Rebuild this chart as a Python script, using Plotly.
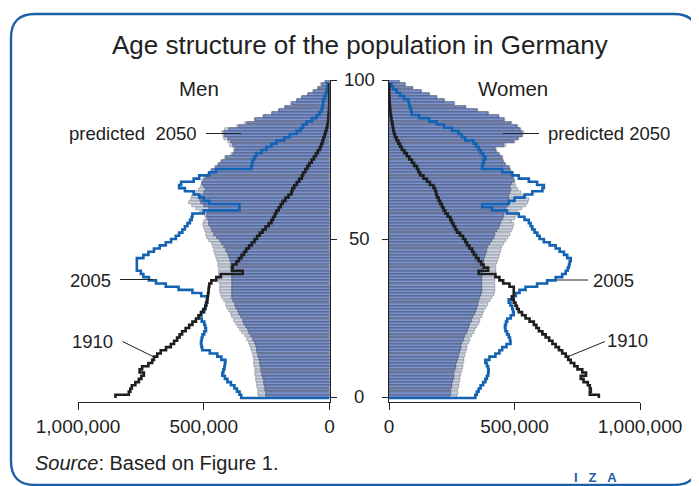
import plotly.graph_objects as go

W, H = 699, 486
OFF = 8  # page body margin of the browser

ages = list(range(100))

# values in thousands of persons, ages 0..99
men_2050_a = [251, 253, 255, 257, 259, 262, 265, 268, 271, 274,
              276, 278, 281, 284, 287, 290, 293, 298, 305, 313,
              320, 326, 331, 338, 345, 352, 358, 365, 371, 377,
              382, 386, 387, 387, 387, 387, 387, 387, 387, 387,
              388, 390, 393, 396, 399, 405, 412, 419, 426, 437,
              448, 458, 466, 473, 478, 481, 484, 486, 488, 478,
              500, 510, 515, 512, 500, 492, 498, 505, 500, 493,
              478, 468, 452, 440, 428, 410, 385, 375, 372, 385,
              392, 405, 415, 418, 400, 360, 330, 295, 262, 228,
              200, 175, 150, 128, 108, 85, 62, 45, 30, 15]
men_2050_b = [282, 284, 286, 288, 290, 292, 294, 296, 297, 298,
              300, 300, 302, 305, 308, 311, 315, 320, 328, 337,
              346, 354, 362, 370, 378, 386, 393, 400, 406, 412,
              418, 428, 432, 434, 436, 437, 438, 438, 438, 440,
              440, 442, 444, 446, 450, 455, 460, 464, 468, 478,
              486, 491, 497, 500, 502, 498, 492, 495, 515, 530,
              545, 558, 552, 548, 530, 518, 510, 508, 505, 498,
              482, 470, 455, 442, 430, 415, 390, 380, 380, 395,
              405, 418, 425, 428, 415, 368, 335, 298, 265, 230,
              202, 177, 152, 130, 110, 87, 64, 47, 32, 17]
men_2005 = [351, 358, 368, 378, 392, 406, 416, 426, 422, 418,
            416, 414, 430, 446, 476, 506, 509, 511, 508, 505,
            498, 491, 494, 498, 508, 518, 510, 498, 494, 491,
            488, 486, 510, 545, 600, 651, 690, 718, 740, 750,
            766, 766, 766, 766, 740, 720, 698, 675, 651, 630,
            611, 598, 585, 575, 565, 555, 548, 545, 500, 358,
            358, 478, 500, 518, 540, 575, 598, 590, 540, 518,
            478, 451, 311, 308, 306, 298, 291, 270, 251, 231,
            211, 180, 158, 131, 115, 105, 91, 70, 51, 40,
            31, 28, 26, 25, 20, 15, 11, 9, 7, 6]
men_1910 = [851, 798, 792, 786, 772, 758, 748, 738, 755, 745,
            720, 705, 698, 685, 671, 650, 631, 618, 606, 596,
            586, 572, 558, 545, 531, 521, 511, 502, 494, 490,
            486, 485, 483, 481, 480, 478, 470, 450, 432, 345,
            388, 385, 370, 360, 350, 340, 331, 320, 309, 298,
            288, 277, 266, 254, 242, 231, 224, 217, 211, 202,
            194, 186, 175, 163, 151, 148, 140, 130, 120, 110,
            105, 96, 88, 80, 71, 62, 54, 46, 38, 33,
            28, 24, 20, 16, 12, 9, 6, 5, 4, 3,
            2, 1, 1, 1, 1, 1, 1, 1, 1, 1]

women_2050_a = [244, 246, 248, 250, 252, 255, 257, 260, 263, 266,
                268, 271, 274, 278, 281, 285, 288, 292, 297, 303,
                309, 314, 318, 324, 330, 336, 341, 345, 350, 355,
                360, 364, 368, 371, 371, 371, 371, 371, 372, 373,
                374, 376, 378, 380, 382, 385, 390, 396, 404, 410,
                417, 424, 431, 438, 444, 448, 453, 457, 462, 468,
                476, 478, 478, 480, 483, 485, 484, 490, 497, 495,
                490, 484, 477, 462, 455, 451, 440, 425, 422, 460,
                497, 512, 528, 531, 522, 508, 486, 460, 437, 395,
                350, 305, 260, 220, 190, 160, 128, 95, 65, 40]
women_2050_b = [271, 273, 275, 277, 279, 282, 284, 287, 290, 293,
                295, 297, 300, 303, 306, 309, 312, 317, 323, 330,
                337, 344, 351, 357, 363, 369, 374, 378, 385, 393,
                401, 410, 418, 424, 424, 424, 424, 424, 425, 426,
                427, 428, 430, 434, 440, 444, 448, 452, 457, 465,
                474, 484, 490, 495, 497, 492, 500, 505, 515, 530,
                544, 552, 557, 545, 524, 515, 505, 500, 502, 498,
                494, 488, 481, 466, 459, 455, 444, 430, 427, 465,
                502, 517, 533, 536, 527, 512, 490, 463, 440, 398,
                353, 307, 262, 222, 192, 162, 130, 97, 67, 42]
women_2005 = [344, 350, 357, 365, 375, 384, 390, 395, 397, 395,
              390, 384, 400, 424, 440, 451, 468, 484, 482, 477,
              470, 464, 462, 466, 471, 485, 497, 494, 491, 484,
              477, 490, 505, 520, 544, 590, 630, 664, 690, 704,
              712, 717, 720, 724, 710, 697, 680, 664, 640, 617,
              600, 591, 580, 571, 564, 557, 540, 517, 470, 411,
              371, 477, 500, 540, 571, 611, 617, 590, 557, 517,
              491, 451, 371, 374, 377, 384, 375, 365, 357, 347,
              337, 304, 290, 277, 251, 220, 190, 160, 120, 91,
              88, 84, 80, 77, 60, 44, 30, 17, 10, 4]
women_1910 = [836, 800, 804, 800, 792, 775, 764, 785, 770, 751,
              738, 724, 714, 704, 690, 677, 664, 651, 638, 624,
              611, 597, 587, 577, 560, 544, 530, 517, 510, 504,
              497, 490, 497, 497, 497, 480, 455, 440, 424, 357,
              395, 377, 367, 357, 347, 338, 331, 320, 311, 304,
              295, 283, 271, 264, 257, 250, 244, 234, 224, 217,
              211, 204, 198, 191, 188, 184, 177, 163, 151, 137,
              124, 117, 111, 100, 91, 81, 71, 61, 51, 44,
              37, 30, 24, 20, 17, 15, 13, 10, 8, 6,
              5, 4, 3, 2, 2, 1, 1, 1, 1, 1]

x_tickvals = [0, 500, 1000]
x_ticktext = ["0", "500,000", "1,000,000"]
y_tickvals = [0, 50, 100]
y_ticktext = ["0", "50", "100"]

FONT = "Liberation Sans, Arial, sans-serif"
TXT = "#222222"
DARK_FILL = "rgb(122,147,204)"
DARK_LINE = "rgb(48,54,80)"
LIGHT_FILL = "rgb(208,214,229)"
LIGHT_LINE = "rgb(105,110,125)"
BLUE = "rgb(20,98,178)"
BLACK = "rgb(30,30,30)"
FRAME = "rgb(26,95,168)"


def px(x):
    return (x - OFF) / W


def py(y):
    return 1 - (y - OFF) / H


fig = go.Figure()
bar_y = [a + 0.5 for a in ages]

for side, (light, dark, v2005, v1910) in (("", (men_2050_b, men_2050_a, men_2005, men_1910)),
                                          ("2", (women_2050_b, women_2050_a, women_2005, women_1910))):
    xa, ya = "x" + side, "y" + side
    fig.add_trace(go.Bar(x=light, y=bar_y, orientation="h", width=0.9,
                         marker=dict(color=LIGHT_FILL, line=dict(color=LIGHT_LINE, width=0.5)),
                         xaxis=xa, yaxis=ya))
    fig.add_trace(go.Bar(x=dark, y=bar_y, orientation="h", width=0.9,
                         marker=dict(color=DARK_FILL, line=dict(color=DARK_LINE, width=0.5)),
                         xaxis=xa, yaxis=ya))
    fig.add_trace(go.Scatter(x=[0] + v2005, y=[0] + ages, mode="lines",
                             line=dict(color=BLUE, width=2.6, shape="vh"),
                             xaxis=xa, yaxis=ya))
    fig.add_trace(go.Scatter(x=v1910, y=ages, mode="lines",
                             line=dict(color=BLACK, width=2.6, shape="vh"),
                             xaxis=xa, yaxis=ya))

y_dom = [py(402), py(80)]
y_rng = [-1.26, 100]
axis_common = dict(showgrid=False, zeroline=False, showline=True, linecolor=TXT,
                   linewidth=1.3, ticks="outside", tickcolor=TXT, tickwidth=1.3,
                   automargin=False)

fig.update_layout(
    width=W, height=H, autosize=False,
    margin=dict(l=0, r=0, t=0, b=0, pad=0, autoexpand=False),
    paper_bgcolor="white", plot_bgcolor="rgba(0,0,0,0)",
    showlegend=False, barmode="overlay", bargap=0,
    font=dict(family=FONT, color=TXT),
    xaxis=dict(domain=[px(78), px(329.5)], range=[1000, 0], anchor="y",
               tickvals=x_tickvals, ticktext=x_ticktext, ticklen=7,
               tickfont=dict(size=19, color=TXT), **axis_common),
    yaxis=dict(domain=y_dom, range=y_rng, anchor="x", side="right",
               tickvals=y_tickvals, showticklabels=False, ticklen=6, **axis_common),
    xaxis2=dict(domain=[px(389), px(640)], range=[0, 1000], anchor="y2",
                tickvals=x_tickvals, ticktext=x_ticktext, ticklen=7,
                tickfont=dict(size=19, color=TXT), **axis_common),
    yaxis2=dict(domain=y_dom, range=y_rng, anchor="x2", side="left",
                tickvals=y_tickvals, showticklabels=False, ticklen=6, **axis_common),
)

ann = []


def label(text, x, y, size=19, xanchor="center", color=TXT, **kw):
    ann.append(dict(text=text, x=px(x), y=py(y), xref="paper", yref="paper",
                    xanchor=xanchor, yanchor="middle", showarrow=False,
                    font=dict(size=size, color=color, family=FONT), **kw))


label("Age structure of the population in Germany", 360, 45, size=26)
label("Men", 199, 88, size=20.5)
label("Women", 512.5, 88, size=20.5)
label("predicted\u00a0\u00a02050", 199, 133, size=18.5, xanchor="right")
label("predicted 2050", 546, 133, size=18.5, xanchor="left")
label("2005", 90.5, 280, size=18.5)
label("2005", 613, 280, size=18.5)
label("1910", 92.5, 341, size=18.5)
label("1910", 627, 340, size=18.5)
label("<i>Source</i>: Based on Figure 1.", 33, 463, size=20, xanchor="left")
label("<b>I\u00a0\u00a0\u00a0Z\u00a0\u00a0\u00a0A</b>", 595, 477, size=13, color=FRAME)

for v, t in zip(y_tickvals, y_ticktext):
    ann.append(dict(text=t, x=px(359), y=v, xref="paper", yref="y",
                    xanchor="center", yanchor="middle", showarrow=False, yshift=1,
                    font=dict(size=18.5, color=TXT, family=FONT)))

fig.update_layout(annotations=ann)

shapes = []
for (x0, y0, x1, y1) in [(206, 133.5, 241, 133.5), (503, 133.5, 539, 133.5),
                         (120, 279.5, 153, 279.5), (557, 280, 588, 280),
                         (122.5, 341.5, 154, 357), (567, 357, 605, 341.5)]:
    shapes.append(dict(type="line", xref="paper", yref="paper",
                       x0=px(x0), y0=py(y0), x1=px(x1), y1=py(y1),
                       line=dict(color=TXT, width=1)))

# rounded frame
L, T, R, B, r = 11, 14, 698, 485, 24
pts = (f"M {px(L + r)},{py(T)} L {px(R - r)},{py(T)} "
       f"Q {px(R)},{py(T)} {px(R)},{py(T + r)} L {px(R)},{py(B - r)} "
       f"Q {px(R)},{py(B)} {px(R - r)},{py(B)} L {px(L + r)},{py(B)} "
       f"Q {px(L)},{py(B)} {px(L)},{py(B - r)} L {px(L)},{py(T + r)} "
       f"Q {px(L)},{py(T)} {px(L + r)},{py(T)} Z")
shapes.append(dict(type="path", xref="paper", yref="paper", path=pts,
                   line=dict(color=FRAME, width=2.4)))
fig.update_layout(shapes=shapes)

fig.write_html("out.html")
